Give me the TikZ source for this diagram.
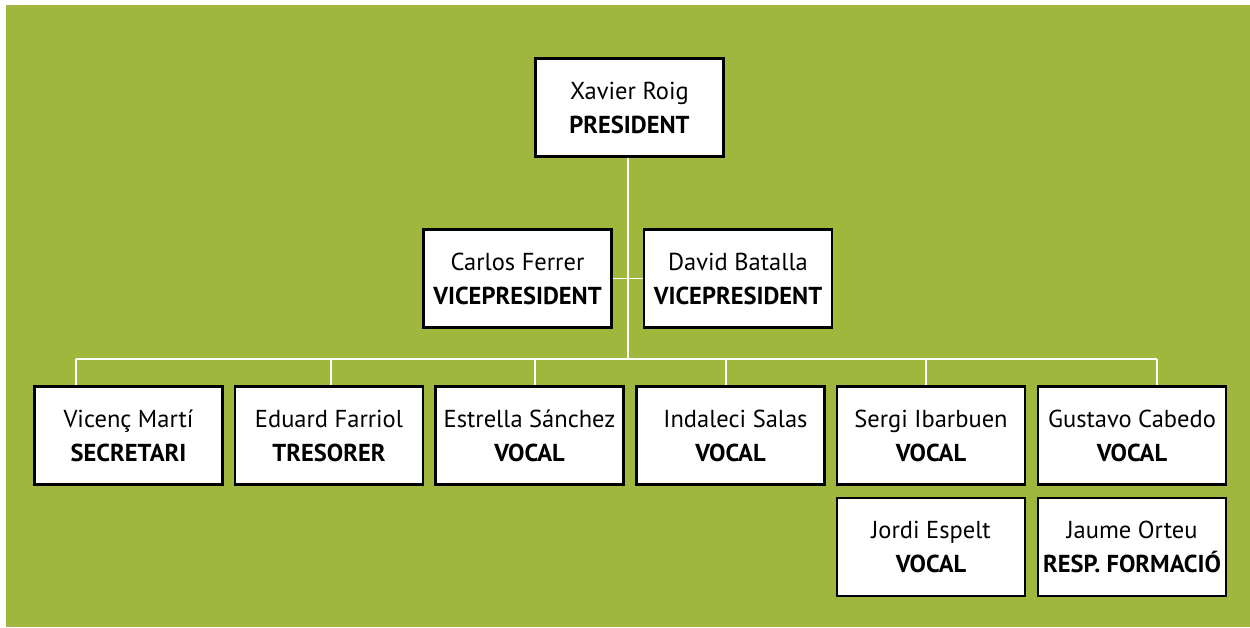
\documentclass[tikz,border=0pt]{standalone}
\usepackage{fontspec}
\setmainfont{PT Sans}
\definecolor{bggreen}{RGB}{159,183,61}
\begin{document}
\begin{tikzpicture}[x=1pt,y=-1pt,
  card/.style={draw=black, line width=2.6pt, fill=white, minimum width=188pt, minimum height=98pt,
    inner sep=0pt, align=center, font=\fontsize{24.5}{34}\selectfont},
  link/.style={draw=white, line width=1.6pt}]
\useasboundingbox (0,0) rectangle (1250,627);
\fill[white] (0,0) rectangle (1250,627);
\fill[bggreen] (6,5) rectangle (1250,627);
% connectors
\coordinate (top) at (628,158);
\coordinate (bar) at (628,359);
\coordinate (d1) at (76,359);
\coordinate (d2) at (331,359);
\coordinate (d3) at (535,359);
\coordinate (d4) at (726,359);
\coordinate (d5) at (926,359);
\coordinate (d6) at (1157,359);
\coordinate (rowtop) at (0,385);
\draw[link] (top) -- (bar);
\draw[link] (d1) -- (d6);
\foreach \d in {d1,d2,d3,d4,d5,d6} {\draw[link] (\d) -- (\d |- rowtop);}
% nodes
\node[card] (pres) at (629.5,107.5) {Xavier Roig\\\textbf{PRESIDENT}};
\node[card] (vp1) at (517.5,278.5) {Carlos Ferrer\\\textbf{VICEPRESIDENT}};
\node[card] (vp2) at (738,278.5) {David Batalla\\\textbf{VICEPRESIDENT}};
\draw[link] (vp1.east) -- (vp2.west);
\node[card] (b1) at (128.5,435.5) {Vicenç Martí\\\textbf{SECRETARI}};
\node[card] (b2) at (329,435.5) {Eduard Farriol\\\textbf{TRESORER}};
\node[card] (b3) at (529.5,435.5) {Estrella Sánchez\\\textbf{VOCAL}};
\node[card] (b4) at (730.5,435.5) {\hspace*{10pt}Indaleci Salas\\\textbf{VOCAL}};
\node[card] (b5) at (931,435.5) {Sergi Ibarbuen\\\textbf{VOCAL}};
\node[card] (b6) at (1132,435.5) {Gustavo Cabedo\\\textbf{VOCAL}};
\node[card] (c5) at (931,547) {Jordi Espelt\\\textbf{VOCAL}};
\node[card] (c6) at (1132,547) {Jaume Orteu\\\textbf{RESP. FORMACIÓ}};
\end{tikzpicture}
\end{document}
